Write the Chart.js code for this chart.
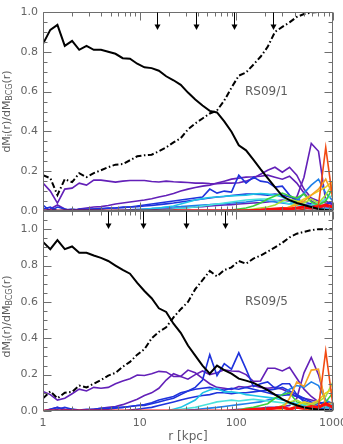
<!DOCTYPE html>
<html>
<head>
<meta charset="utf-8">
<script src="https://cdn.jsdelivr.net/npm/chart.js@4.4.0/dist/chart.umd.min.js"></script>
<style>
    html, body { margin: 0; padding: 0; background: #fff; }
    #quadro { position: relative; width: 343px; height: 444px; overflow: hidden; }
    canvas { position: absolute; left: 0; }
    #graficoTopo { top: 0; }
    #graficoBase { top: 200px; }
</style>
</head>
<body>
<div id="quadro">
    <canvas id="graficoTopo" width="343" height="222"></canvas>
    <canvas id="graficoBase" width="343" height="244"></canvas>
</div>
<script>
'use strict';

// raio dos bins [kpc]
const radius = [1.00, 1.19, 1.41, 1.68, 2.00, 2.37, 2.82, 3.35, 3.98, 4.73,
    5.62, 6.68, 7.94, 9.44, 11.2, 13.3, 15.8, 18.8, 22.4, 26.6,
    31.6, 37.6, 44.7, 53.1, 63.1, 75.0, 89.1, 106, 126, 150,
    178, 211, 251, 299, 355, 422, 501, 596, 708, 841,
    1000];

const decadas = [1, 10, 100, 1000];
const setasTopo = [15.2, 37.9, 95, 241];
const setasBase = [4.73, 10.7, 30.1, 76.3];

//========================================================================================
// RS09/1
const topSolid = [0.84, 0.91, 0.935, 0.83, 0.855, 0.81, 0.83, 0.81, 0.81, 0.80,
    0.79, 0.768, 0.765, 0.74, 0.722, 0.718, 0.705, 0.677, 0.657, 0.634,
    0.595, 0.56, 0.53, 0.503, 0.495, 0.45, 0.398, 0.33, 0.305, 0.258,
    0.21, 0.165, 0.12, 0.075, 0.055, 0.04, 0.03, 0.02, 0.01, 0.005,
    0.0];
const topDash = [0.18, 0.165, 0.08, 0.16, 0.145, 0.19, 0.17, 0.19, 0.205, 0.22,
    0.233, 0.236, 0.255, 0.275, 0.28, 0.283, 0.30, 0.32, 0.345, 0.366,
    0.41, 0.44, 0.465, 0.49, 0.505, 0.555, 0.62, 0.68, 0.696, 0.735,
    0.775, 0.825, 0.9, 0.925, 0.948, 0.975, 0.99, 0.997, 1.0, 1.0,
    1.0];
const topPurple1 = [0.14, 0.10, 0.04, 0.11, 0.115, 0.14, 0.13, 0.155, 0.155, 0.15,
    0.145, 0.15, 0.153, 0.153, 0.153, 0.148, 0.146, 0.15, 0.147, 0.145,
    0.143, 0.14, 0.14, 0.138, 0.137, 0.14, 0.14, 0.142, 0.15, 0.165,
    0.185, 0.205, 0.22, 0.195, 0.22, 0.18, 0.11, 0.065, 0.05, 0.04,
    0.035];
const topPurple2 = [0.0, 0.01, 0.03, 0.01, 0.0, 0.01, 0.015, 0.02, 0.022, 0.028,
    0.035, 0.04, 0.045, 0.05, 0.055, 0.062, 0.07, 0.078, 0.088, 0.1,
    0.11, 0.118, 0.125, 0.13, 0.14, 0.15, 0.16, 0.165, 0.17, 0.172,
    0.175, 0.18, 0.17, 0.16, 0.175, 0.14, 0.09, 0.05, 0.03, 0.02,
    0.02];
const topPurple3 = [0, 0, 0, 0, 0, 0, 0, 0, 0, 0,
    0, 0, 0, 0.002, 0.004, 0.006, 0.008, 0.01, 0.012, 0.015,
    0.018, 0.02, 0.022, 0.025, 0.028, 0.03, 0.032, 0.035, 0.038, 0.04,
    0.042, 0.045, 0.05, 0.055, 0.05, 0.07, 0.17, 0.34, 0.3, 0.05,
    0.03];
const topBlue1 = [0.03, 0.0, 0.02, 0.01, 0.0, 0.01, 0.005, 0.01, 0.01, 0.015,
    0.015, 0.02, 0.02, 0.025, 0.03, 0.035, 0.04, 0.045, 0.05, 0.055,
    0.06, 0.065, 0.07, 0.11, 0.09, 0.1, 0.095, 0.18, 0.14, 0.17,
    0.15, 0.145, 0.12, 0.125, 0.08, 0.05, 0.03, 0.03, 0.02, 0.01,
    0.01];
const topBlue2 = [0.01, 0.02, 0.0, 0.005, 0.01, 0.005, 0.01, 0.01, 0.012, 0.014,
    0.015, 0.017, 0.02, 0.022, 0.025, 0.028, 0.032, 0.036, 0.04, 0.045,
    0.05, 0.055, 0.06, 0.065, 0.07, 0.073, 0.078, 0.082, 0.085, 0.085,
    0.083, 0.08, 0.085, 0.08, 0.07, 0.06, 0.045, 0.035, 0.025, 0.03,
    0.05];
const topAzure = [0, 0, 0, 0, 0, 0, 0, 0, 0, 0,
    0.002, 0.004, 0.006, 0.008, 0.01, 0.012, 0.015, 0.018, 0.02, 0.022,
    0.025, 0.028, 0.03, 0.032, 0.035, 0.037, 0.04, 0.042, 0.045, 0.05,
    0.055, 0.05, 0.045, 0.04, 0.035, 0.05, 0.09, 0.13, 0.16, 0.09,
    0.05];
const topCyan = [0, 0, 0, 0, 0, 0, 0, 0, 0, 0,
    0, 0, 0, 0.003, 0.008, 0.012, 0.015, 0.02, 0.025, 0.035,
    0.045, 0.055, 0.062, 0.068, 0.07, 0.074, 0.076, 0.078, 0.08, 0.085,
    0.088, 0.085, 0.08, 0.07, 0.05, 0.03, 0.02, 0.015, 0.01, 0.01,
    0.01];
const topTurq = [0, 0, 0, 0, 0, 0, 0, 0, 0, 0,
    0, 0, 0, 0, 0, 0, 0.003, 0.006, 0.01, 0.013,
    0.016, 0.02, 0.025, 0.03, 0.035, 0.04, 0.045, 0.05, 0.055, 0.058,
    0.06, 0.06, 0.055, 0.045, 0.035, 0.03, 0.025, 0.03, 0.04, 0.06,
    0.08];
const topGreen = [0, 0, 0, 0, 0, 0, 0, 0, 0, 0,
    0, 0, 0, 0, 0, 0, 0, 0, 0, 0,
    0, 0, 0, 0, 0, 0, 0.005, 0.01, 0.015, 0.025,
    0.04, 0.06, 0.075, 0.09, 0.075, 0.065, 0.085, 0.045, 0.03, 0.05,
    0.12];
const topLime = [0, 0, 0, 0, 0, 0, 0, 0, 0, 0,
    0, 0, 0, 0, 0, 0, 0, 0, 0, 0,
    0, 0, 0, 0, 0, 0, 0, 0, 0.005, 0.01,
    0.015, 0.02, 0.03, 0.05, 0.06, 0.05, 0.04, 0.06, 0.04, 0.08,
    0.14];
const topYellow = [0, 0, 0, 0, 0, 0, 0, 0, 0, 0,
    0, 0, 0, 0, 0, 0, 0, 0, 0, 0,
    0, 0, 0, 0, 0, 0, 0, 0, 0, 0,
    0, 0, 0.005, 0.01, 0.02, 0.04, 0.06, 0.08, 0.1, 0.12,
    0.15];
const topOrange = [0, 0, 0, 0, 0, 0, 0, 0, 0, 0,
    0, 0, 0, 0, 0, 0, 0, 0, 0, 0,
    0, 0, 0, 0, 0, 0, 0, 0, 0, 0,
    0, 0, 0, 0.005, 0.02, 0.03, 0.05, 0.08, 0.11, 0.16,
    0.08];
const topRedOrange = [0, 0, 0, 0, 0, 0, 0, 0, 0, 0,
    0, 0, 0, 0, 0, 0, 0, 0, 0, 0,
    0, 0, 0, 0, 0, 0, 0, 0, 0, 0,
    0, 0, 0, 0, 0, 0, 0.01, 0.02, 0.03, 0.32,
    0.05];
const topRed = [null, null, null, null, null, null, null, null, null, null,
    null, null, null, null, null, null, null, null, 0, 0,
    0, 0, 0, 0, 0, 0, 0, 0, 0, 0.003,
    0.005, 0.008, 0.01, 0.012, 0.01, 0.015, 0.02, 0.015, 0.02, 0.03,
    0.02];
const topDarkRed = [0, 0, 0, 0, 0, 0, 0, 0, 0, 0,
    0, 0, 0, 0, 0, 0, 0, 0, 0, 0,
    0, 0, 0, 0, 0, 0, 0, 0, 0, 0,
    0, 0, 0, 0, 0, 0, 0, 0, 0, 0,
    0];

//========================================================================================
// RS09/5
const botSolid = [0.93, 0.89, 0.94, 0.89, 0.905, 0.87, 0.87, 0.855, 0.842, 0.825,
    0.80, 0.776, 0.755, 0.705, 0.66, 0.62, 0.565, 0.545, 0.48, 0.43,
    0.36, 0.305, 0.25, 0.205, 0.25, 0.225, 0.205, 0.178, 0.167, 0.155,
    0.135, 0.115, 0.09, 0.065, 0.046, 0.032, 0.02, 0.012, 0.008, 0.005,
    0.002];
const botDash = [0.07, 0.108, 0.07, 0.10, 0.105, 0.14, 0.13, 0.15, 0.17, 0.195,
    0.21, 0.243, 0.27, 0.31, 0.34, 0.40, 0.435, 0.46, 0.515, 0.56,
    0.6, 0.67, 0.72, 0.77, 0.74, 0.775, 0.79, 0.825, 0.81, 0.838,
    0.855, 0.876, 0.9, 0.925, 0.955, 0.975, 0.985, 0.995, 1.0, 1.0,
    1.0];
const botPurple1 = [0.108, 0.09, 0.06, 0.07, 0.095, 0.12, 0.11, 0.13, 0.125, 0.13,
    0.15, 0.165, 0.178, 0.198, 0.195, 0.205, 0.218, 0.215, 0.19, 0.19,
    0.175, 0.2, 0.22, 0.2, 0.21, 0.227, 0.22, 0.218, 0.2, 0.163,
    0.165, 0.235, 0.235, 0.22, 0.24, 0.18, 0.12, 0.08, 0.05, 0.03,
    0.02];
const botPurple2 = [0.0, 0.01, 0.02, 0.01, 0.005, 0.0, 0.005, 0.01, 0.015, 0.02,
    0.025, 0.035, 0.05, 0.065, 0.085, 0.1, 0.125, 0.17, 0.205, 0.19,
    0.225, 0.21, 0.18, 0.15, 0.13, 0.125, 0.118, 0.135, 0.13, 0.14,
    0.13, 0.125, 0.13, 0.12, 0.1, 0.08, 0.07, 0.06, 0.05, 0.04,
    0.03];
const botPurple3 = [0, 0, 0, 0, 0, 0, 0, 0, 0, 0,
    0, 0, 0, 0, 0, 0, 0, 0, 0, 0,
    0, 0, 0, 0, 0, 0, 0.005, 0.01, 0.01, 0.015,
    0.015, 0.02, 0.02, 0.025, 0.03, 0.07, 0.21, 0.295, 0.2, 0.05,
    0.03];
const botBlue1 = [0.0, 0.01, 0.02, 0.0, 0.01, 0.005, 0.01, 0.01, 0.015, 0.015,
    0.02, 0.02, 0.025, 0.03, 0.03, 0.04, 0.05, 0.06, 0.07, 0.09,
    0.11, 0.13, 0.17, 0.31, 0.195, 0.26, 0.23, 0.32, 0.23, 0.135,
    0.15, 0.16, 0.125, 0.15, 0.15, 0.09, 0.05, 0.03, 0.02, 0.01,
    0.01];
const botBlue2 = [0.0, 0.0, 0.01, 0.02, 0.01, 0.0, 0.005, 0.005, 0.01, 0.01,
    0.015, 0.02, 0.025, 0.03, 0.035, 0.045, 0.06, 0.07, 0.08, 0.1,
    0.11, 0.12, 0.125, 0.13, 0.12, 0.115, 0.125, 0.12, 0.13, 0.12,
    0.11, 0.1, 0.09, 0.085, 0.09, 0.08, 0.06, 0.04, 0.03, 0.02,
    0.02];
const botBlue3 = [0, 0, 0, 0, 0, 0, 0, 0, 0, 0,
    0, 0, 0.005, 0.01, 0.015, 0.02, 0.03, 0.04, 0.05, 0.06,
    0.07, 0.078, 0.085, 0.09, 0.1, 0.1, 0.095, 0.1, 0.1, 0.105,
    0.11, 0.115, 0.12, 0.13, 0.11, 0.09, 0.07, 0.05, 0.04, 0.05,
    0.03];
const botAzure = [0, 0, 0, 0, 0, 0, 0, 0, 0, 0,
    0, 0, 0, 0, 0, 0, 0, 0, 0, 0,
    0.005, 0.008, 0.012, 0.016, 0.02, 0.025, 0.03, 0.035, 0.04, 0.045,
    0.05, 0.06, 0.07, 0.09, 0.12, 0.14, 0.13, 0.16, 0.14, 0.06,
    0.04];
const botCyan = [0, 0, 0, 0, 0, 0, 0, 0, 0, 0,
    0, 0, 0, 0, 0, 0, 0, 0, 0.01, 0.02,
    0.04, 0.06, 0.1, 0.115, 0.125, 0.105, 0.105, 0.1, 0.09, 0.085,
    0.08, 0.075, 0.07, 0.06, 0.05, 0.04, 0.03, 0.02, 0.02, 0.02,
    0.02];
const botTurq = [0, 0, 0, 0, 0, 0, 0, 0, 0, 0,
    0, 0, 0, 0, 0, 0, 0, 0, 0.005, 0.01,
    0.015, 0.02, 0.03, 0.04, 0.05, 0.055, 0.06, 0.055, 0.06, 0.065,
    0.06, 0.055, 0.05, 0.045, 0.04, 0.03, 0.02, 0.02, 0.02, 0.03,
    0.04];
const botGreen = [0, 0, 0, 0, 0, 0, 0, 0, 0, 0,
    0, 0, 0, 0, 0, 0, 0, 0, 0, 0,
    0, 0, 0, 0, 0, 0, 0, 0.005, 0.015, 0.02,
    0.03, 0.04, 0.07, 0.09, 0.1, 0.05, 0.04, 0.03, 0.02, 0.05,
    0.1];
const botLime = [0, 0, 0, 0, 0, 0, 0, 0, 0, 0,
    0, 0, 0, 0, 0, 0, 0, 0, 0, 0,
    0, 0, 0, 0, 0, 0, 0, 0, 0, 0,
    0.005, 0.01, 0.015, 0.03, 0.05, 0.06, 0.04, 0.03, 0.05, 0.08,
    0.16];
const botYellow = [0, 0, 0, 0, 0, 0, 0, 0, 0, 0,
    0, 0, 0, 0, 0, 0, 0, 0, 0, 0,
    0, 0, 0, 0, 0, 0, 0, 0, 0, 0,
    0, 0, 0, 0, 0.01, 0.03, 0.05, 0.04, 0.06, 0.1,
    0.12];
const botOrange = [0, 0, 0, 0, 0, 0, 0, 0, 0, 0,
    0, 0, 0, 0, 0, 0, 0, 0, 0, 0,
    0, 0, 0, 0, 0, 0, 0, 0, 0, 0,
    0, 0, 0, 0.01, 0.07, 0.16, 0.135, 0.225, 0.23, 0.03,
    0.05];
const botRedOrange = [0, 0, 0, 0, 0, 0, 0, 0, 0, 0,
    0, 0, 0, 0, 0, 0, 0, 0, 0, 0,
    0, 0, 0, 0, 0, 0, 0, 0, 0, 0,
    0, 0, 0, 0, 0, 0, 0.005, 0.01, 0.02, 0.33,
    0.03];
const botRed = [0, 0, 0, 0, 0, 0, 0, 0, 0, 0,
    0, 0, 0, 0, 0, 0, 0, 0, 0, 0,
    0, 0, 0, 0, 0, 0, 0, 0, 0.005, 0.008,
    0.01, 0.012, 0.015, 0.02, 0.01, 0.02, 0.015, 0.025, 0.02, 0.04,
    0.02];
//========================================================================================

Chart.defaults.font.family = '"DejaVu Sans", sans-serif';
Chart.defaults.font.size = 11;
Chart.defaults.color = '#646464';

function serie(valores, cor, largura, tracejado) {
    return {
        data: valores.map((v, i) => ({ x: radius[i], y: v })),
        borderColor: cor,
        borderWidth: largura,
        borderDash: tracejado || [],
        pointRadius: 0,
        fill: false,
        tension: 0
    };
}

const dashDot = [6, 2.5, 1.5, 2.5];

// frame, inward ticks, arrows, panel name and y title
const moldura = {
    id: 'moldura',
    afterDraw(chart, args, opts) {
        const ctx = chart.ctx;
        const a = chart.chartArea;
        const sx = chart.scales.x, sy = chart.scales.y;
        const L = Math.round(a.left) + 0.5, R = Math.round(a.right) - 0.5;
        const T = Math.round(a.top) + 0.5, B = Math.round(a.bottom) - 0.5;
        ctx.save();
        ctx.strokeStyle = '#6e6e6e';
        ctx.lineWidth = 1;
        ctx.beginPath();
        ctx.moveTo(L, T); ctx.lineTo(R, T); ctx.lineTo(R, B); ctx.lineTo(L, B); ctx.closePath();
        for (const dec of decadas) {
            for (let k = 1; k <= 9; k++) {
                const v = dec * k;
                if (v > sx.max) break;
                const px = Math.round(sx.getPixelForValue(v)) + 0.5;
                const len = k === 1 ? 8 : 4;
                ctx.moveTo(px, T); ctx.lineTo(px, T + len);
                ctx.moveTo(px, B); ctx.lineTo(px, B - len);
            }
        }
        for (let k = 0; k * 0.05 <= sy.max + 1e-9; k++) {
            const py = Math.round(sy.getPixelForValue(k * 0.05)) + 0.5;
            const len = k % 4 === 0 ? 8 : 4;
            ctx.moveTo(L, py); ctx.lineTo(L + len, py);
            ctx.moveTo(R, py); ctx.lineTo(R - len, py);
        }
        ctx.stroke();

        // arrows
        ctx.strokeStyle = '#000';
        ctx.fillStyle = '#000';
        for (const r of opts.setas) {
            const px = Math.round(sx.getPixelForValue(r)) + 0.5;
            ctx.beginPath();
            ctx.moveTo(px, T); ctx.lineTo(px, T + 13);
            ctx.stroke();
            ctx.beginPath();
            ctx.moveTo(px - 3, T + 12); ctx.lineTo(px + 3, T + 12); ctx.lineTo(px, T + 17.5);
            ctx.closePath();
            ctx.fill();
        }

        // panel name
        ctx.font = '12px "DejaVu Sans", sans-serif';
        ctx.fillStyle = '#5c5c5c';
        ctx.textAlign = 'left';
        ctx.textBaseline = 'middle';
        ctx.fillText(opts.rotulo, sx.getPixelForValue(opts.rotuloR), sy.getPixelForValue(opts.rotuloY));

        // y title with subscripts
        const partes = [['dM', false], ['i', true], ['(r)/dM', false], ['BCG', true], ['(r)', false]];
        const fonteN = '11px "DejaVu Sans", sans-serif';
        const fonteS = '8px "DejaVu Sans", sans-serif';
        let total = 0;
        for (const [t, sub] of partes) {
            ctx.font = sub ? fonteS : fonteN;
            total += ctx.measureText(t).width;
        }
        ctx.translate(7, sy.getPixelForValue(opts.tituloY));
        ctx.rotate(-Math.PI / 2);
        ctx.textAlign = 'left';
        ctx.textBaseline = 'middle';
        let pos = -total / 2;
        for (const [t, sub] of partes) {
            ctx.font = sub ? fonteS : fonteN;
            ctx.fillText(t, pos, sub ? 3 : 0);
            pos += ctx.measureText(t).width;
        }
        ctx.restore();
    }
};

function eixoY(max) {
    return {
        type: 'linear',
        min: 0,
        max: max,
        grid: { display: false, drawTicks: false },
        border: { display: false },
        ticks: {
            stepSize: 0.2,
            includeBounds: false,
            padding: 5,
            callback: v => v.toFixed(1)
        },
        afterFit: eixo => {
            eixo.width = 43;
            eixo.paddingTop = 0;
            eixo.paddingBottom = 0;
        }
    };
}

// index 0 is painted last, so black curves and the zero-level reds sit on top
function datasetsPainel(s) {
    return [
        serie(s.solid, '#000000', 2),
        serie(s.dash, '#000000', 2, dashDot),
        serie(s.red, '#ff0a0a', 3),
        ...(s.darkRed ? [serie(s.darkRed, '#9a0a1a', 3)] : []),
        serie(s.redOrange, '#f24a12', 1.6),
        serie(s.orange, '#f6a224', 1.6),
        serie(s.yellow, '#ead21c', 1.6),
        serie(s.lime, '#a6e03a', 1.6),
        serie(s.green, '#3ccf3c', 1.6),
        serie(s.turq, '#48e2dc', 1.6),
        serie(s.cyan, '#1ec4e6', 1.6),
        serie(s.azure, '#1f80ea', 1.6),
        ...s.blues.map(b => serie(b, '#1f33dc', 1.6)),
        ...s.purples.map(p => serie(p, '#6320b8', 1.6))
    ];
}

const graficoTopo = new Chart(document.getElementById('graficoTopo'), {
    type: 'line',
    data: {
        datasets: datasetsPainel({
            solid: topSolid, dash: topDash, red: topRed, redOrange: topRedOrange,
            orange: topOrange, yellow: topYellow, lime: topLime, green: topGreen,
            turq: topTurq, cyan: topCyan, azure: topAzure,
            blues: [topBlue1, topBlue2], purples: [topPurple1, topPurple2, topPurple3],
            darkRed: topDarkRed
        })
    },
    options: {
        responsive: false,
        animation: false,
        layout: { padding: { top: 12, right: 10, bottom: 11, left: 0 } },
        scales: {
            x: { type: 'logarithmic', min: 1, max: 1000, display: false },
            y: eixoY(1.0)
        },
        plugins: {
            legend: { display: false },
            tooltip: { enabled: false },
            moldura: { setas: setasTopo, rotulo: 'RS09/1', rotuloR: 123, rotuloY: 0.6, tituloY: 0.5 }
        }
    },
    plugins: [moldura]
});

const graficoBase = new Chart(document.getElementById('graficoBase'), {
    type: 'line',
    data: {
        datasets: datasetsPainel({
            solid: botSolid, dash: botDash, red: botRed, redOrange: botRedOrange,
            orange: botOrange, yellow: botYellow, lime: botLime, green: botGreen,
            turq: botTurq, cyan: botCyan, azure: botAzure,
            blues: [botBlue1, botBlue2, botBlue3], purples: [botPurple1, botPurple2, botPurple3]
        })
    },
    options: {
        responsive: false,
        animation: false,
        layout: { padding: { top: 11, right: 10, bottom: 0, left: 0 } },
        scales: {
            x: {
                type: 'logarithmic',
                min: 1,
                max: 1000,
                grid: { display: false, drawTicks: false },
                border: { display: false },
                afterBuildTicks: eixo => { eixo.ticks = decadas.map(v => ({ value: v })); },
                ticks: {
                    autoSkip: false,
                    maxRotation: 0,
                    padding: 6,
                    callback: v => String(v)
                },
                title: {
                    display: true,
                    text: 'r [kpc]',
                    font: { size: 12 },
                    padding: { top: 0, bottom: 0 }
                },
                afterFit: eixo => {
                    eixo.height = 33;
                    eixo.paddingLeft = 0;
                    eixo.paddingRight = 0;
                }
            },
            y: eixoY(1.1)
        },
        plugins: {
            legend: { display: false },
            tooltip: { enabled: false },
            moldura: { setas: setasBase, rotulo: 'RS09/5', rotuloR: 123, rotuloY: 0.6, tituloY: 0.52 }
        }
    },
    plugins: [moldura]
});
</script>
</body>
</html>
